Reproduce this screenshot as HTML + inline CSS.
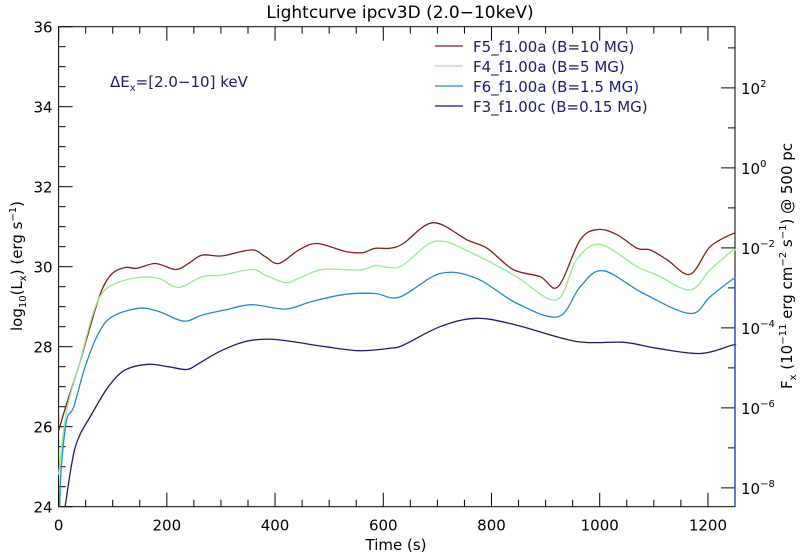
<!DOCTYPE html>
<html><head><meta charset="utf-8"><style>
body{margin:0;background:#fff;}
svg{display:block;font-family:"DejaVu Sans","Liberation Sans",sans-serif;}
</style></head><body>
<svg id="chart" width="800" height="559" viewBox="0 0 800 559">
<text x="400" y="18" text-anchor="middle" font-size="17" fill="#000">Lightcurve ipcv3D (2.0−10keV)</text>
<g id="axes"></g>
<g id="series"></g>
<text x="110" y="87" font-size="15" fill="#1a1a6e">ΔE<tspan font-size="10" dy="4">x</tspan><tspan dy="-4">=[2.0−10] keV</tspan></text>
<g id="legend"></g>
<text transform="translate(22,266) rotate(-90)" text-anchor="middle" font-size="15">log<tspan font-size="10" dy="4">10</tspan><tspan dy="-4">(L</tspan><tspan font-size="10" dy="4">x</tspan><tspan dy="-4">) (erg s</tspan><tspan font-size="10" dy="-6">−1</tspan><tspan dy="6">)</tspan></text>
<text transform="translate(792,266) rotate(-90)" text-anchor="middle" font-size="15">F<tspan font-size="10" dy="4">x</tspan><tspan dy="-4"> (10</tspan><tspan font-size="10" dy="-6">−11</tspan><tspan dy="6"> erg cm</tspan><tspan font-size="10" dy="-6">−2</tspan><tspan dy="6"> s</tspan><tspan font-size="10" dy="-6">−1</tspan><tspan dy="6">) @ 500 pc</tspan></text>
<text x="396" y="550" text-anchor="middle" font-size="15">Time (s)</text>
</svg>
<script>
const xTicks = [0,200,400,600,800,1000,1200];
const yTicks = [24,26,28,30,32,34,36];
const rightTickExps = [2,0,-2,-4,-6,-8];
const seriesNames = ["F5_f1.00a (B=10 MG)","F4_f1.00a (B=5 MG)","F6_f1.00a (B=1.5 MG)","F3_f1.00c (B=0.15 MG)"];
const seriesColors = ["#8b1a1a","#90ee90","#1e8ad0","#1c1c6e"];
const t5 = [0,15,37,62,80,99,123,145,179,216,240,265,302,357,382,407,444,478,530,561,585,612,637,692,755,792,840,890,923,964,997,1032,1069,1093,1125,1167,1204,1245,1250];
const v5 = [25.9,26.58,27.5,28.67,29.42,29.83,29.98,29.96,30.08,29.93,30.08,30.29,30.27,30.42,30.25,30.08,30.42,30.58,30.38,30.35,30.46,30.46,30.58,31.1,30.67,30.46,29.93,29.75,29.5,30.67,30.93,30.8,30.46,30.42,30.17,29.81,30.5,30.82,30.82];
const t4 = [0,15,37,62,80,105,148,185,222,265,302,357,382,419,444,487,555,585,612,637,698,772,846,920,957,1000,1069,1106,1167,1204,1245,1250];
const v4 = [24.8,26.42,27.5,28.75,29.33,29.58,29.73,29.71,29.48,29.75,29.79,29.93,29.79,29.6,29.71,29.93,29.92,30.02,29.98,30.04,30.64,30.29,29.75,29.17,30.17,30.56,30.0,29.79,29.42,29.92,30.4,30.4];
const t6 = [2,5,15,28,49,74,99,148,185,231,265,308,357,419,468,530,585,630,705,772,846,923,964,1006,1081,1167,1204,1245,1250];
const v6 = [24,25.0,26.17,26.5,27.5,28.34,28.75,28.96,28.88,28.64,28.79,28.92,29.05,28.94,29.13,29.31,29.33,29.24,29.83,29.71,29.09,28.75,29.5,29.9,29.33,28.83,29.25,29.68,29.68];
const t3 = [12,31,62,92,123,166,203,237,259,296,345,388,431,493,555,612,637,705,772,846,957,1044,1106,1186,1245,1250];
const v3 = [24,25.5,26.33,27.0,27.42,27.56,27.5,27.43,27.58,27.87,28.13,28.19,28.13,28.0,27.9,27.96,28.04,28.5,28.71,28.54,28.13,28.11,27.96,27.83,28.04,28.04];
const allT = [t5,t4,t6,t3], allV = [v5,v4,v6,v3];

const L=58.6,R=735,T=26.7,B=506.7;
const xs = t => L + (t/1250)*(R-L);
const ys = v => T + (36-v)*(B-T)/12;
const fluxOffset = 32.47;
const yf = e => ys(e + fluxOffset);
const NS="http://www.w3.org/2000/svg";
function mk(tag, attrs, parent){const e=document.createElementNS(NS,tag);for(const k in attrs)e.setAttribute(k,attrs[k]);parent.appendChild(e);return e;}
const ax=document.getElementById('axes');
const frame=mk('rect',{x:L,y:T,width:R-L,height:B-T,fill:'none',stroke:'#000','stroke-width':1},ax);


for(let t=0;t<=1250;t+=50){
  const major = t%200===0;
  const len = major?14:7;
  const a=mk('line',{x1:xs(t),x2:xs(t),y1:B,y2:B-len,stroke:'#000'},ax);
  
  
  const b=mk('line',{x1:xs(t),x2:xs(t),y1:T,y2:T+len,stroke:'#000'},ax);
  
  
}
xTicks.forEach(t=>{
  const e=mk('text',{x:xs(t),y:B+24,'text-anchor':'middle','font-size':15},ax);e.textContent=t;
  
  
});
for(let v=24;v<=36;v+=0.5){
  const major=Math.abs(v-Math.round(v/2)*2)<1e-6;
  const a=mk('line',{x1:L,x2:L+(major?14:7),y1:ys(v),y2:ys(v),stroke:'#000'},ax);
  
  
}
yTicks.forEach(v=>{
  const e=mk('text',{x:L-6,y:ys(v)+6,'text-anchor':'end','font-size':15},ax);e.textContent=v;
  
  
});
for(let e=-9;e<=3;e++){
  const y=yf(e); if(y<T||y>B)continue;
  const major=e%2===0;
  const a=mk('line',{x1:R,x2:R-(major?14:7),y1:y,y2:y,stroke:'#000'},ax);
  
  
}
rightTickExps.forEach(e=>{
  const t=mk('text',{x:R+6,y:yf(e)+6,'font-size':15},ax);
  t.innerHTML='10<tspan font-size="10" dy="-7">'+(e<0?'−'+(-e):e)+'</tspan>';
  
  
});
const sg=document.getElementById('series');
function smoothPath(px,py){
  let d='M'+px[0].toFixed(1)+','+py[0].toFixed(1);
  for(let i=0;i<px.length-1;i++){
    const i0=Math.max(0,i-1),i3=Math.min(px.length-1,i+2);
    const c1x=px[i]+(px[i+1]-px[i0])/6, c1y=py[i]+(py[i+1]-py[i0])/6;
    const c2x=px[i+1]-(px[i3]-px[i])/6, c2y=py[i+1]-(py[i3]-py[i])/6;
    d+=' C'+c1x.toFixed(1)+','+c1y.toFixed(1)+' '+c2x.toFixed(1)+','+c2y.toFixed(1)+' '+px[i+1].toFixed(1)+','+py[i+1].toFixed(1);
  }
  return d;
}
allT.forEach((tt,i)=>{
  const px=tt.map(xs), py=allV[i].map(ys);
  const p=mk('path',{d:smoothPath(px,py),fill:'none',stroke:seriesColors[i],'stroke-width':1.3,'stroke-linejoin':'round'},sg);
  
  
});
const edge=mk('line',{x1:R,x2:R,y1:ys(29.7),y2:B,stroke:'#3050c0','stroke-width':1.5},sg);


const lg=document.getElementById('legend');
seriesNames.forEach((n,i)=>{
  const y=46+i*20;
  const l=mk('line',{x1:435,x2:463,y1:y,y2:y,stroke:seriesColors[i],'stroke-width':1.3},lg);
  
  
  const t=mk('text',{x:473,y:y+6,'font-size':15,fill:'#1a1a6e'},lg);t.textContent=n;
  
  
});
</script>
</body></html>
